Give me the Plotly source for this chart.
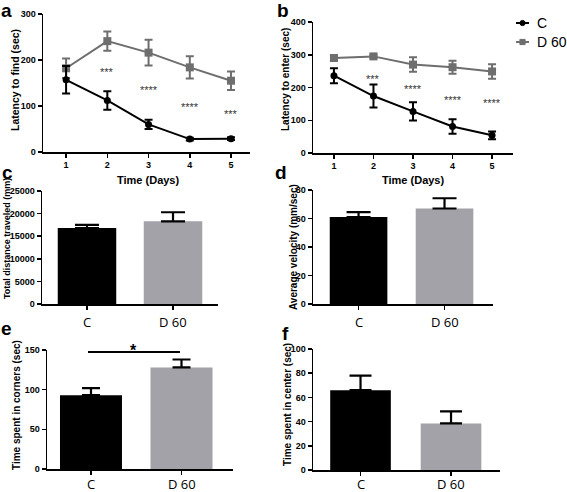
import plotly.graph_objects as go

W, H = 567, 492

# ---- data ----
days = [1, 2, 3, 4, 5]
a_C = [157, 112, 60, 28, 29]
a_C_err = [30, 20, 10, 3, 3]
a_D = [182, 241, 216, 184, 155]
a_D_err = [21, 21, 28, 24, 20]
a_stars = ["", "***", "****", "****", "***"]
a_star_y = [0, 180, 142, 104, 89]

b_C = [236, 174, 127, 81, 54]
b_C_err = [23, 35, 28, 22, 12]
b_D = [290, 295, 270, 262, 249]
b_D_err = [8, 5, 22, 20, 22]
b_stars = ["", "***", "****", "****", "****"]
b_star_y = [0, 235, 205, 172, 162]

groups = ["C", "D 60"]
c_vals = [16800, 18300]
c_err = [700, 2000]
c_ticks = [0, 5000, 10000, 15000, 20000, 25000]
d_vals = [61, 67]
d_err = [3.5, 7.2]
d_ticks = [0, 20, 40, 60, 80]
e_vals = [93, 128]
e_err = [9, 10]
e_ticks = [0, 50, 100, 150]
f_vals = [66, 38.5]
f_err = [12, 10]
f_ticks = [0, 20, 40, 60, 80, 100]

BLACK = "#000000"
GRAY_LINE = "#6e6e6e"
GRAY_BAR = "#a2a2a8"

def px_x(p):
    return p / W

def px_y(p):
    return 1 - p / H

fig = go.Figure()

# ---- line panels ----
def add_lines(xa, ya, C, Ce, D, De):
    fig.add_trace(go.Scatter(
        x=days, y=D, mode="lines+markers", name="D 60",
        line=dict(color=GRAY_LINE, width=2),
        marker=dict(symbol="square", size=8, color=GRAY_LINE),
        error_y=dict(type="data", array=De, color=GRAY_LINE, thickness=2, width=4),
        xaxis=xa, yaxis=ya, showlegend=False))
    fig.add_trace(go.Scatter(
        x=days, y=C, mode="lines+markers", name="C",
        line=dict(color=BLACK, width=2),
        marker=dict(symbol="circle", size=7, color=BLACK),
        error_y=dict(type="data", array=Ce, color=BLACK, thickness=2, width=4),
        xaxis=xa, yaxis=ya, showlegend=False))

add_lines("x", "y", a_C, a_C_err, a_D, a_D_err)
add_lines("x2", "y2", b_C, b_C_err, b_D, b_D_err)

# ---- bar panels ----
def add_bars(xa, ya, vals, err, width, capw):
    fig.add_trace(go.Bar(
        x=[0, 1], y=vals, width=[width, width],
        marker=dict(color=[BLACK, GRAY_BAR], line=dict(width=0)),
        error_y=dict(type="data", array=err, arrayminus=[0, 0], symmetric=False,
                     color=BLACK, thickness=2.2, width=capw),
        xaxis=xa, yaxis=ya, showlegend=False))

add_bars("x3", "y3", c_vals, c_err, 0.68, 12)
add_bars("x4", "y4", d_vals, d_err, 0.67, 12)
add_bars("x5", "y5", e_vals, e_err, 0.685, 9)
add_bars("x6", "y6", f_vals, f_err, 0.67, 11)

tickfont = dict(family="Liberation Sans", size=9, color="#000", weight="bold")
catfont = dict(family="Open Sans", size=13, color="#000")

def axis_common():
    return dict(showline=True, linecolor="#000", linewidth=1.5, ticks="outside",
                ticklen=4, tickwidth=1.5, tickcolor="#000", showgrid=False,
                zeroline=False, fixedrange=True, automargin=False)

def yax(domain, rng, ticks, anchor):
    return dict(axis_common(), domain=domain, range=rng, tickvals=ticks,
                ticktext=[str(t) for t in ticks], tickfont=tickfont, anchor=anchor)

def xcat(domain, rng, anchor):
    return dict(axis_common(), domain=domain, range=rng, tickvals=[0, 1],
                showticklabels=False, anchor=anchor)

layout_axes = {}
layout_axes["xaxis"] = dict(axis_common(), domain=[px_x(43), px_x(250)], range=[0.44, 5.46],
                            tickvals=days, tickfont=tickfont, anchor="y")
layout_axes["yaxis"] = yax([px_y(152), px_y(14)], [0, 300], [0, 100, 200, 300], "x")
layout_axes["xaxis2"] = dict(axis_common(), domain=[px_x(313), px_x(513)], range=[0.47, 5.53],
                             tickvals=days, tickfont=tickfont, anchor="y2")
layout_axes["yaxis2"] = yax([px_y(153), px_y(22)], [0, 400], [0, 100, 200, 300, 400], "x2")
layout_axes["xaxis3"] = xcat([px_x(42), px_x(218)], [-0.523, 1.523], "y3")
layout_axes["yaxis3"] = yax([px_y(304), px_y(191)], [0, 25000], c_ticks, "x3")
layout_axes["xaxis4"] = xcat([px_x(313), px_x(493)], [-0.53, 1.564], "y4")
layout_axes["yaxis4"] = yax([px_y(304), px_y(190)], [0, 80], d_ticks, "x4")
layout_axes["xaxis5"] = xcat([px_x(47), px_x(233)], [-0.486, 1.569], "y5")
layout_axes["yaxis5"] = yax([px_y(469), px_y(350)], [0, 150], e_ticks, "x5")
layout_axes["xaxis6"] = xcat([px_x(313), px_x(500)], [-0.525, 1.541], "y6")
layout_axes["yaxis6"] = yax([px_y(470), px_y(349)], [0, 100], f_ticks, "x6")

annotations = []

def ytitle(text, xp, yp, size=10):
    annotations.append(dict(text=text, x=px_x(xp), y=px_y(yp), xref="paper", yref="paper",
                            textangle=-90, showarrow=False,
                            font=dict(family="Liberation Sans", size=size, color="#000",
                                      weight="bold"),
                            xanchor="center", yanchor="middle"))

ytitle("Latency to find (sec)", 15, 80, 10.5)
ytitle("Latency to enter (sec)", 285, 80)
ytitle("Total distance traveled (mm)", 7, 239, 9)
ytitle("Average velocity (mm/sec)", 293, 247)
ytitle("Time spent in corners (sec)", 16, 405)
ytitle("Time spent in center (sec)", 287, 405)

for xp in (148, 413):
    annotations.append(dict(text="Time (Days)", x=px_x(xp), y=px_y(180), xref="paper",
                            yref="paper", showarrow=False,
                            font=dict(family="Liberation Sans", size=11, color="#000", weight="bold"),
                            xanchor="center", yanchor="middle"))

# category labels under bar panels
for xa, yp in (("x3", 322), ("x4", 322), ("x5", 484), ("x6", 484)):
    for i, g in enumerate(groups):
        annotations.append(dict(text=g, x=i, y=px_y(yp), xref=xa, yref="paper",
                                showarrow=False, font=catfont,
                                xanchor="center", yanchor="middle"))

# significance stars
for xa, ya, stars, ys in (("x", "y", a_stars, a_star_y), ("x2", "y2", b_stars, b_star_y)):
    for d, s, yv in zip(days, stars, ys):
        if s:
            annotations.append(dict(text=s, x=d, y=yv, xref=xa, yref=ya, showarrow=False,
                                    font=dict(family="Liberation Sans", size=11, color="#333"),
                                    xanchor="center", yanchor="middle", yshift=-3))

# star in panel e
annotations.append(dict(text="*", x=0.47, y=px_y(350), xref="x5", yref="paper", showarrow=False,
                        font=dict(family="Liberation Sans", size=16, color="#000", weight="bold"),
                        xanchor="center", yanchor="middle"))

# panel letters
for letter, xp, yp in (("a", 6, 11), ("b", 283, 11), ("c", 7, 172), ("d", 281, 172),
                       ("e", 6, 328), ("f", 285, 333)):
    annotations.append(dict(text=letter, x=px_x(xp), y=px_y(yp), xref="paper", yref="paper",
                            showarrow=False,
                            font=dict(family="Liberation Sans", size=19, color="#000", weight="bold"),
                            xanchor="center", yanchor="middle"))

# legend (manual)
legend_items = [("C", BLACK, "circle", 23), ("D 60", GRAY_LINE, "square", 42)]
shapes = [dict(type="line", xref="x5", yref="y5", x0=-0.033, x1=0.983, y0=147.5, y1=147.5,
               line=dict(color="#000", width=2))]
for name, col, sym, yp in legend_items:
    shapes.append(dict(type="line", xref="paper", yref="paper", x0=px_x(516), x1=px_x(529),
                       y0=px_y(yp), y1=px_y(yp), line=dict(color=col, width=2)))
    r = 2.6
    shapes.append(dict(type="circle" if sym == "circle" else "rect", xref="paper", yref="paper",
                       x0=px_x(522.5 - r), x1=px_x(522.5 + r), y0=px_y(yp + r), y1=px_y(yp - r),
                       fillcolor=col, line=dict(color=col, width=1)))
    annotations.append(dict(text=name, x=px_x(535), y=px_y(yp), xref="paper", yref="paper",
                            showarrow=False,
                            font=dict(family="Liberation Sans", size=14, color="#000"),
                            xanchor="left", yanchor="middle"))

fig.update_layout(
    width=W, height=H, margin=dict(l=0, r=0, t=0, b=0),
    paper_bgcolor="white", plot_bgcolor="white", showlegend=False,
    annotations=annotations, shapes=shapes,
    **layout_axes,
)

fig.write_html(
    "out.html",
    config={"displayModeBar": False, "staticPlot": True},
    post_script="document.body.style.margin='0';document.body.style.padding='0';"
                "document.body.style.overflow='hidden';",
)
